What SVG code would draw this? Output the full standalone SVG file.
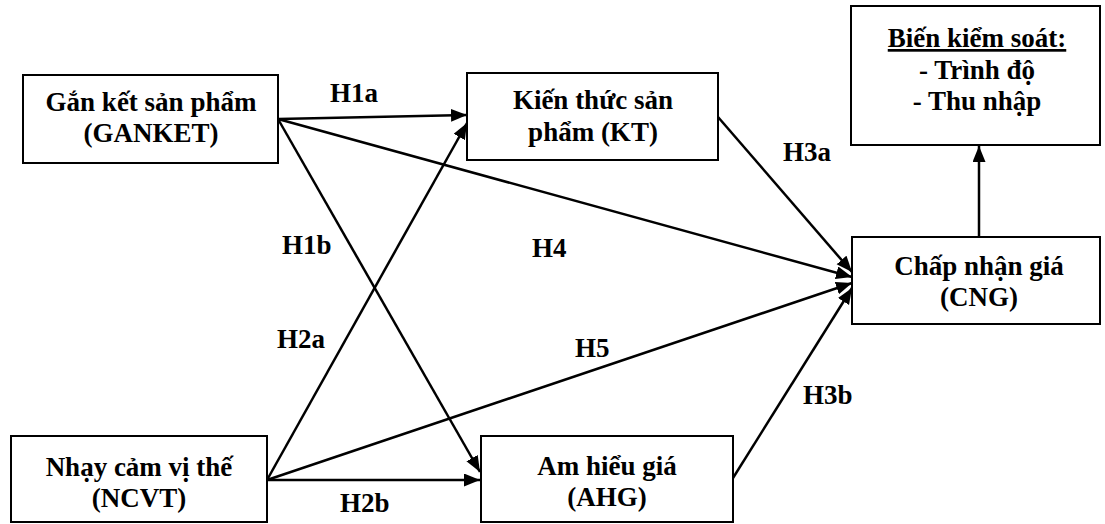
<svg xmlns="http://www.w3.org/2000/svg" width="1105" height="524" viewBox="0 0 1105 524">
<style>
.box{fill:#fff;stroke:#000;stroke-width:2}
.t{font-family:"Liberation Serif","Times New Roman",serif;font-weight:bold;font-size:27px;fill:#000;text-anchor:middle}
.lb{font-family:"Liberation Serif","Times New Roman",serif;font-weight:bold;font-size:27px;fill:#000}
.c{stroke:#000;stroke-width:2.5;fill:none;marker-end:url(#ah)}
</style>
<defs>
<marker id="ah" markerUnits="userSpaceOnUse" markerWidth="17" markerHeight="14" refX="16" refY="6.5" orient="auto">
<path d="M0,0 L16,6.5 L0,13 z" fill="#000"/>
</marker>
</defs>
<rect width="1105" height="524" fill="#fff"/>
<g id="connectors">
<line class="c" x1="278" y1="119" x2="467" y2="115"/>
<line class="c" x1="278" y1="119" x2="852" y2="277"/>
<line class="c" x1="278" y1="119" x2="480" y2="472"/>
<line class="c" x1="267" y1="480" x2="467" y2="123"/>
<line class="c" x1="267" y1="480" x2="852" y2="283"/>
<line class="c" x1="267" y1="480" x2="480" y2="480"/>
<line class="c" x1="718" y1="117" x2="852" y2="272"/>
<line class="c" x1="733" y1="478" x2="852" y2="288"/>
<line class="c" x1="979" y1="236" x2="979" y2="146"/>
</g>
<g id="labels">
<text class="lb" x="330" y="102">H1a</text>
<text class="lb" x="783" y="161">H3a</text>
<text class="lb" x="282" y="254">H1b</text>
<text class="lb" x="532" y="257">H4</text>
<text class="lb" x="277" y="348">H2a</text>
<text class="lb" x="575" y="357">H5</text>
<text class="lb" x="803" y="404">H3b</text>
<text class="lb" x="340" y="512">H2b</text>
</g>
<g id="ganket">
<rect class="box" x="23" y="75" width="255" height="88"/>
<text class="t" x="151" y="111">Gắn kết sản phẩm</text>
<text class="t" x="151" y="142">(GANKET)</text>
</g>
<g id="kt">
<rect class="box" x="467" y="73" width="251" height="87"/>
<text class="t" x="593" y="109">Kiến thức sản</text>
<text class="t" x="593" y="141">phẩm (KT)</text>
</g>
<g id="control">
<rect class="box" x="851" y="6" width="249" height="139"/>
<text class="t" x="977" y="47" text-decoration="underline">Biến kiểm soát:</text>
<text class="t" x="977" y="79">- Trình độ</text>
<text class="t" x="977" y="110">- Thu nhập</text>
</g>
<g id="cng">
<rect class="box" x="852" y="237" width="248" height="87"/>
<text class="t" x="979" y="275">Chấp nhận giá</text>
<text class="t" x="979" y="306">(CNG)</text>
</g>
<g id="ncvt">
<rect class="box" x="11" y="436" width="256" height="86"/>
<text class="t" x="139" y="476">Nhạy cảm vị thế</text>
<text class="t" x="139" y="507">(NCVT)</text>
</g>
<g id="ahg">
<rect class="box" x="481" y="436" width="252" height="86"/>
<text class="t" x="607" y="475">Am hiểu giá</text>
<text class="t" x="607" y="506">(AHG)</text>
</g>
</svg>
